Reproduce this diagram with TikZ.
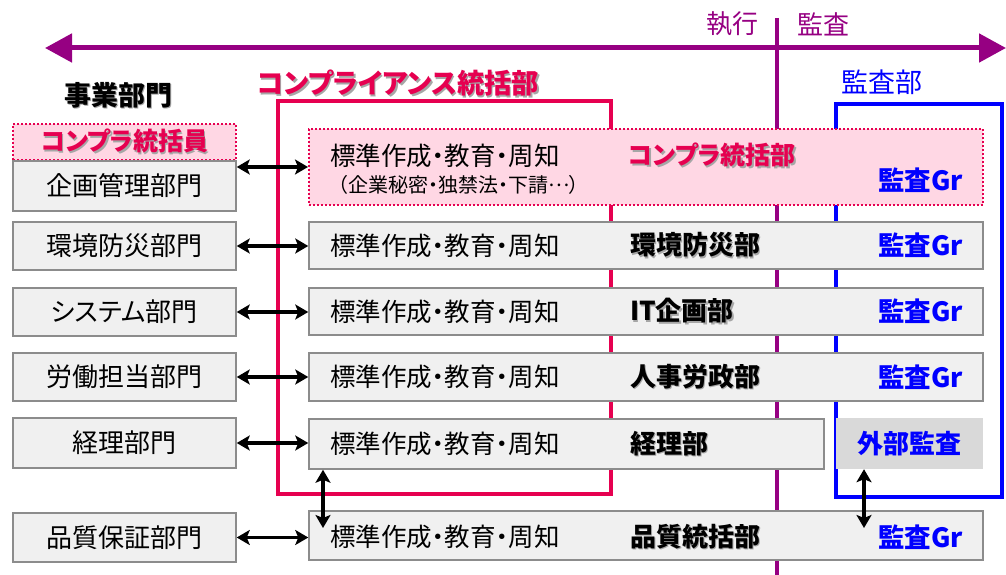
\documentclass[tikz,border=0pt]{standalone}
\usepackage{fontspec}
\setmainfont{Noto Sans CJK JP}[RawFeature={+palt}]
\usetikzlibrary{arrows.meta}
\definecolor{axispurple}{RGB}{150,0,130}
\definecolor{crim}{RGB}{230,0,80}
\definecolor{pinkfill}{RGB}{255,215,228}
\definecolor{boxgray}{RGB}{240,240,240}
\definecolor{boxline}{RGB}{140,140,140}
\definecolor{auditblue}{RGB}{0,0,255}
\definecolor{extgray}{RGB}{217,217,217}
\newcommand\shadowed[1]{\makebox[0pt][l]{\hspace{1.5pt}\raisebox{-1.5pt}{\color{black!35}#1}}#1}
\newcommand\fsz[1]{\fontsize{#1}{#1}\selectfont}
\tikzset{
  graybox/.style={draw=boxline, line width=1.5pt, fill=boxgray, inner sep=0pt},
  leftbox/.style={graybox, minimum width=223pt, font=\fsz{26}},
  midbox/.style={graybox, minimum width=674pt},
  pinkbox/.style={draw=crim, line width=2pt, dotted, fill=pinkfill, inner sep=0pt},
  stdtext/.style={anchor=west, font=\fsz{25.5}, inner sep=0pt},
  deptext/.style={anchor=west, font=\bfseries\fsz{26}, inner sep=0pt},
  grtext/.style={anchor=west, font=\bfseries\fsz{26.5}, text=auditblue, inner sep=0pt},
  dbl/.style={{Stealth[length=13pt,width=15pt,inset=3pt]}-{Stealth[length=13pt,width=15pt,inset=3pt]}, line width=3.5pt, black},
  axisline/.style={draw=axispurple, line width=5pt},
}
\begin{document}
\begin{tikzpicture}[x=1pt,y=-1pt]
\useasboundingbox (0,0) rectangle (1006,575);
% axis
\coordinate (axl) at (45,48);
\coordinate (axr) at (1006,48);
\coordinate (axt) at (777,18);
\coordinate (axb) at (777,575);
\draw[axisline, {Triangle[length=27pt,width=28pt]}-{Triangle[length=27pt,width=28pt]}] (axl) -- (axr);
\draw[draw=axispurple, line width=4pt] (axt) -- (axb);
\node[text=axispurple, font=\fsz{26}] (exec) at (732,24) {執行};
\node[text=axispurple, font=\fsz{26}] (audit) at (823,24) {監査};
% frames
\draw[crim, line width=4pt] (278,101) rectangle (611,494);
\draw[auditblue, line width=4pt] (836,104) rectangle (1002,497);
\node[text=crim, font=\bfseries\fsz{27.3}] (cdept) at (398,84) {\shadowed{コンプライアンス統括部}};
\node[text=auditblue, font=\fsz{27}] (adept) at (882,82) {監査部};
\node[text=black, font=\bfseries\fsz{27}] (biz) at (118,96) {\shadowed{事業部門}};
% left column
\node[pinkbox, minimum width=223pt, minimum height=36pt, text=crim, font=\bfseries\fsz{25}] (Lc) at (124.5,142) {\shadowed{コンプラ統括員}};
\node[leftbox, minimum height=50pt] (L1) at (124.5,186) {企画管理部門};
\node[leftbox, minimum height=48pt] (L2) at (124.5,246) {環境防災部門};
\node[leftbox, minimum height=48pt] (L3) at (124.5,312) {システム部門};
\node[leftbox, minimum height=48pt] (L4) at (124.5,377) {労働担当部門};
\node[leftbox, minimum height=50pt] (L5) at (124.5,443) {経理部門};
\node[leftbox, minimum height=49pt] (L6) at (124.5,537.5) {品質保証部門};
% middle rows
\node[pinkbox, minimum width=674pt, minimum height=76pt] (M1) at (646,167) {};
\node[stdtext] (M1a) at (330,156) {標準作成・教育・周知};
\node[anchor=west, font=\fsz{20}, inner sep=0pt] (M1b) at (338,185) {（企業秘密・独禁法・下請\raisebox{0.3em}{…}）};
\node[deptext, text=crim, font=\bfseries\fsz{25}] (M1c) at (628,156) {\shadowed{コンプラ統括部}};
\node[grtext] (M1d) at (878,180) {監査Gr};

\node[midbox, minimum height=47pt] (M2) at (646,245.5) {};
\node[stdtext] (M2a) at (330,245.5) {標準作成・教育・周知};
\node[deptext] (M2c) at (630,245.5) {\shadowed{環境防災部}};
\node[grtext] (M2d) at (878,245.5) {監査Gr};

\node[midbox, minimum height=47pt] (M3) at (646,311.5) {};
\node[stdtext] (M3a) at (330,311.5) {標準作成・教育・周知};
\node[deptext] (M3c) at (630,311.5) {\shadowed{IT企画部}};
\node[grtext] (M3d) at (878,311.5) {監査Gr};

\node[midbox, minimum height=48pt] (M4) at (646,377) {};
\node[stdtext] (M4a) at (330,377) {標準作成・教育・周知};
\node[deptext] (M4c) at (630,377) {\shadowed{人事労政部}};
\node[grtext] (M4d) at (878,377) {監査Gr};

\node[graybox, minimum width=515pt, minimum height=50pt] (M5) at (566.5,444) {};
\node[stdtext] (M5a) at (330,444) {標準作成・教育・周知};
\node[deptext] (M5c) at (630,444) {\shadowed{経理部}};
\node[fill=extgray, minimum width=147pt, minimum height=51pt, inner sep=0pt, text=auditblue, font=\bfseries\fsz{26}] (G) at (909.5,443.5) {外部監査};

\node[midbox, minimum height=49pt] (M6) at (646,535.5) {};
\node[stdtext] (M6a) at (330,537) {標準作成・教育・周知};
\node[deptext] (M6c) at (630,537) {\shadowed{品質統括部}};
\node[grtext] (M6d) at (878,537) {監査Gr};
% connectors
\draw[dbl] (L1.east |- M1.west) -- (M1.west);
\draw[dbl] (L2.east) -- (L2.east -| M2.west);
\draw[dbl] (L3.east) -- (L3.east -| M3.west);
\draw[dbl] (L4.east) -- (L4.east -| M4.west);
\draw[dbl] (L5.east) -- (L5.east -| M5.west);
\draw[dbl] (L6.east) -- (L6.east -| M6.west);
\coordinate (va) at (323,528);
\coordinate (vb) at (864,528);
\draw[dbl] (M5.south -| va) -- (va);
\draw[dbl] (G.south -| vb) -- (vb);
\end{tikzpicture}
\end{document}
